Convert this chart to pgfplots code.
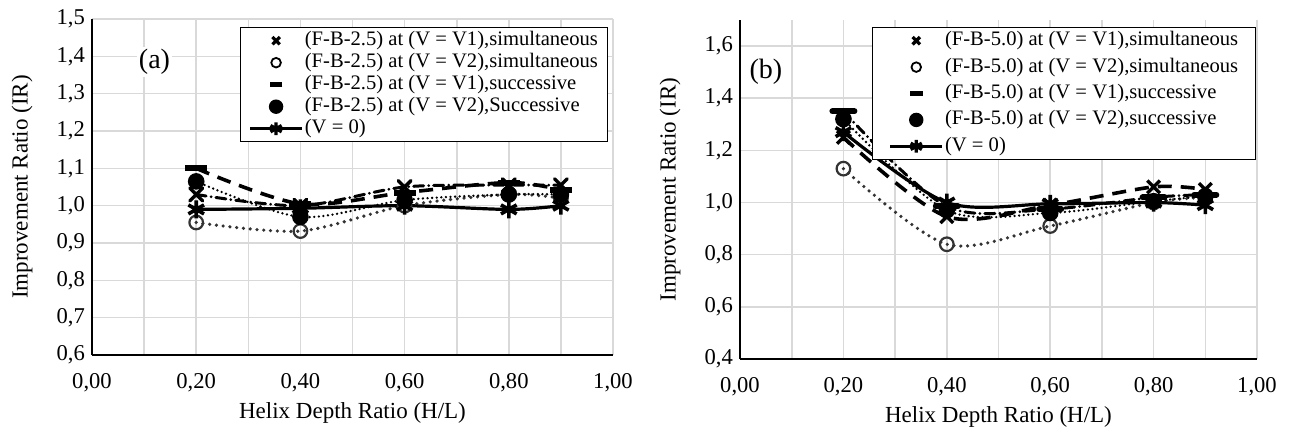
\documentclass[border=0pt]{standalone}
\usepackage{fontspec}
\setmainfont{Liberation Serif}
\usepackage{pgfplots}
\pgfplotsset{compat=1.18}
\usepackage{pgfplotstable}

% columns: V1 simultaneous, V2 simultaneous, V1 successive, V2 successive, V=0
\pgfplotstableread{
x    va     vb     vc     vd     vz
0.2  1.030  0.955  1.100  1.065  0.990
0.4  1.000  0.932  1.005  0.970  0.993
0.6  1.050  1.000  1.035  1.015  1.000
0.8  1.055  1.030  1.062  1.030  0.990
0.9  1.055  1.020  1.042  1.030  1.000
}\tablea

\pgfplotstableread{
x    va     vb     vc     vd     vz
0.2  1.250  1.130  1.350  1.320  1.270
0.4  0.946  0.840  0.985  0.970  1.000
0.6  0.990  0.910  0.975  0.960  0.995
0.8  1.060  1.000  1.020  1.005  1.000
0.9  1.050  1.020  1.030  1.025  0.990
}\tableb

\tikzset{
  longdash/.style={black, line width=1.8pt, dash pattern=on 7pt off 4.5pt},
  dashdot/.style={black, line width=1.5pt, line cap=round, dash pattern=on 5pt off 2.5pt on 0pt off 2.5pt},
  rounddot/.style={black!80, line width=1.8pt, line cap=round, dash pattern=on 0pt off 3.4pt},
  finedot/.style={black, line width=1.3pt, line cap=round, dash pattern=on 0pt off 2.3pt},
  zeroline/.style={black, line width=1.6pt},
  mcross/.style={mark=x, mark size=4.5pt, mark options={solid, line width=1.7pt}},
  mopen/.style={mark=o, mark size=3.4pt, mark options={solid, line width=1.1pt, fill=white}},
  mdash/.style={mark=-, mark size=5.5pt, mark options={solid, line width=3pt}},
  mfill/.style={mark=*, mark size=3.5pt, mark options={solid}},
  mstar/.style={mark=asterisk, mark size=4.5pt, mark options={solid, line width=1.8pt}},
}

\pgfplotsset{
  panel/.style={
    scale only axis,
    xmin=0, xmax=1,
    xtick={0,0.2,0.4,0.6,0.8,1},
    minor x tick num=1,
    grid=both,
    grid style={draw=black!15, line width=0.8pt},
    minor grid style={draw=black!15, line width=0.8pt},
    axis x line*=bottom, axis y line*=left,
    axis line style={-, line width=1pt, black},
    major tick length=0pt, minor tick length=0pt,
    tick label style={font=\fontsize{11.3}{13}\selectfont},
    /pgf/number format/assume math mode=true,
    /pgf/number format/use comma,
    xticklabel style={anchor=center, yshift=-14pt,
      /pgf/number format/fixed, /pgf/number format/fixed zerofill,
      /pgf/number format/precision=2},
    yticklabel style={/pgf/number format/fixed, /pgf/number format/fixed zerofill,
      /pgf/number format/precision=1},
    label style={font=\fontsize{11.5}{13}\selectfont},
    xlabel style={at={(axis description cs:0.5,0)}, anchor=center, yshift=-29pt},
    xlabel={Helix Depth Ratio (H/L)},
    ylabel={Improvement Ratio (IR)},
    legend cell align=left,
    legend image code/.code={\draw[mark repeat=2,mark phase=2,##1] plot coordinates {(0pt,0pt) (13pt,0pt) (26pt,0pt)};},
    legend style={anchor=north east, draw=black, line width=0.6pt, fill=white,
      font=\fontsize{10.3}{12}\selectfont, inner ysep=1pt,
      nodes={inner sep=0.6pt, text height=7.4pt, text depth=2.4pt}},
  },
}

\begin{document}
\begin{tikzpicture}
\useasboundingbox (-46pt,-40pt) rectangle (600.5pt,177.5pt);

\begin{axis}[panel,
  at={(0pt,0pt)}, anchor=south west,
  width=260.5pt, height=168pt,
  ymin=0.6, ymax=1.5,
  ytick={0.6,0.7,0.8,0.9,1.0,1.1,1.2,1.3,1.4,1.5},
  ylabel style={at={(axis description cs:-0.1344,0.5)}, anchor=center},
  legend style={at={(rel axis cs:0.990,0.976)}, row sep=0pt, inner xsep=4pt},
]
\addlegendimage{only marks, mark=x, mark size=2.6pt, mark options={line width=1.6pt}}
\addlegendentry{(F-B-2.5) at (V = V1),simultaneous}
\addlegendimage{only marks, mark=o, mark size=2.4pt, mark options={line width=0.9pt}}
\addlegendentry{(F-B-2.5) at (V = V2),simultaneous}
\addlegendimage{only marks, mark=-, mark size=3.2pt, mark options={line width=2.6pt}}
\addlegendentry{(F-B-2.5) at (V = V1),successive}
\addlegendimage{only marks, mark=*, mark size=3.3pt}
\addlegendentry{(F-B-2.5) at (V = V2),Successive}
\addlegendimage{line width=1.6pt, mark=asterisk, mark size=3.2pt, mark options={line width=1.6pt}}
\addlegendentry{(V = 0)}

\addplot[rounddot, smooth, mopen, forget plot] table[y=vb]{\tablea};
\addplot[finedot, smooth, mfill, forget plot] table[y=vd]{\tablea};
\addplot[dashdot, smooth, mcross, forget plot] table[y=va]{\tablea};
\addplot[longdash, smooth, mdash, forget plot] table[y=vc]{\tablea};
\addplot[zeroline, smooth, mstar, forget plot] table[y=vz]{\tablea};

\node[fill=white, inner sep=1pt, font=\fontsize{14}{16}\selectfont] at (axis cs:0.12,1.385) {(a)};
\end{axis}

\begin{axis}[panel,
  at={(324pt,-2pt)}, anchor=south west,
  width=258.5pt, height=169.5pt,
  ymin=0.4, ymax=1.7,
  ytick={0.4,0.6,0.8,1.0,1.2,1.4,1.6},
  ylabel style={at={(axis description cs:-0.1354,0.5)}, anchor=center},
  legend style={at={(rel axis cs:0.998,0.979)}, row sep=2.2pt, inner xsep=8pt},
]
\addlegendimage{only marks, mark=x, mark size=2.6pt, mark options={line width=1.6pt}}
\addlegendentry{(F-B-5.0) at (V = V1),simultaneous}
\addlegendimage{only marks, mark=o, mark size=2.4pt, mark options={line width=0.9pt}}
\addlegendentry{(F-B-5.0) at (V = V2),simultaneous}
\addlegendimage{only marks, mark=-, mark size=3.2pt, mark options={line width=2.6pt}}
\addlegendentry{(F-B-5.0) at (V = V1),successive}
\addlegendimage{only marks, mark=*, mark size=3.3pt}
\addlegendentry{(F-B-5.0) at (V = V2),successive}
\addlegendimage{line width=1.6pt, mark=asterisk, mark size=3.2pt, mark options={line width=1.6pt}}
\addlegendentry{(V = 0)}

\addplot[rounddot, smooth, mopen, forget plot] table[y=vb]{\tableb};
\addplot[finedot, smooth, mfill, forget plot] table[y=vd]{\tableb};
\addplot[dashdot, smooth, mdash, forget plot] table[y=vc]{\tableb};
\addplot[longdash, smooth, mcross, forget plot] table[y=va]{\tableb};
\addplot[zeroline, smooth, mstar, forget plot] table[y=vz]{\tableb};

\node[fill=white, inner sep=1pt, font=\fontsize{14}{16}\selectfont] at (axis cs:0.05,1.50) {(b)};
\end{axis}
\end{tikzpicture}
\end{document}
